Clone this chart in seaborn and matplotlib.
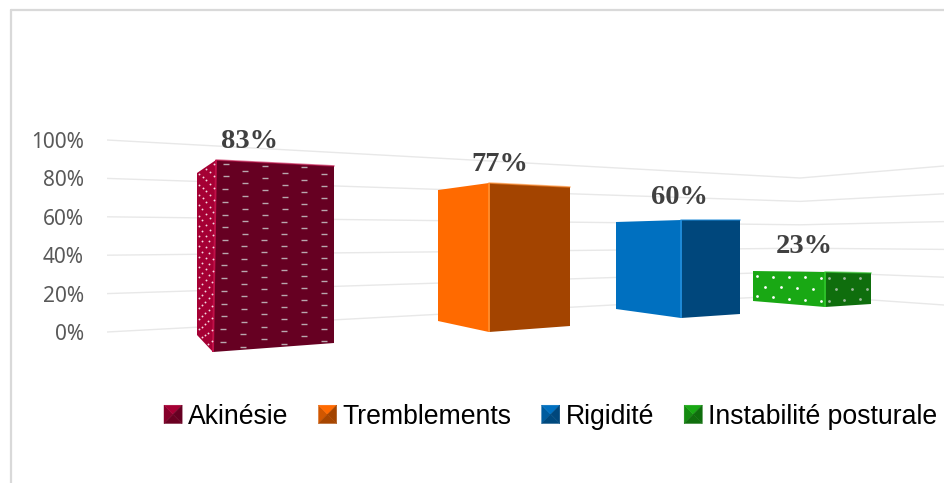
import numpy as np
import pandas as pd
import matplotlib
matplotlib.use("Agg")
import matplotlib.pyplot as plt
import seaborn as sns
from matplotlib.legend_handler import HandlerBase
from matplotlib.lines import Line2D
from matplotlib.patches import Patch, Polygon
from matplotlib.colors import to_rgb

# ---- data ----
categories = ["Akinésie", "Tremblements", "Rigidité", "Instabilité posturale"]
values = [83, 77, 60, 23]
tick_values = [0, 20, 40, 60, 80, 100]

# ---- style ----
light = ["#A50034", "#FF6A00", "#0070C0", "#19A814"]
dark = ["#660022", "#A34400", "#00477C", "#0F6E0D"]
edge_hi = ["#C01048", "#FF8A2A", "#1E8AD8", "#2CC228"]

# ---- perspective of the 3-D view (pixels of the 944x483 canvas) ----
W, H = 944, 483
AX_LEFT = 107
Y0_PX, PX_PER_PCT = 332, 1.92
CENTER0_PX, CAT_STEP_PX = 265, 182.33
EDGE_X = [(197, 216, 213, 334), (438, 489, 489, 570), (616, 681, 681, 740), (753, 825, 825, 871)]
FLOOR = [(335, 352, 343), (321, 332, 326), (309, 318, 314), (301, 307, 304)]
RISE = [(1.952, 2.313, 2.133), (1.701, 1.935, 1.805), (1.45, 1.633, 1.567), (1.304, 1.522, 1.348)]
LABEL_POS = [(249, 141), (500, 164), (679, 197), (804, 246)]
GRID_X = (107, 800, 944)
GRID_FLOOR = (332, 295, 305)
GRID_RISE = (1.92, 1.17, 1.39)

sns.set_theme(style="white")
plt.rcParams["font.family"] = ["Noto Sans", "DejaVu Sans"]


def xd(px):
    return (px - CENTER0_PX) / CAT_STEP_PX


def yd(py):
    return (Y0_PX - py) / PX_PER_PCT


fig = plt.figure(figsize=(W / 100, H / 100), dpi=100, facecolor="white")
ax = fig.add_axes([AX_LEFT / W, 0, (W - AX_LEFT) / W, 1])

df = pd.DataFrame({"cat": categories, "val": values})
sns.barplot(data=df, x="cat", y="val", hue="cat", palette=dark, dodge=False, saturation=1,
            legend=False, ax=ax, zorder=3, linewidth=0, width=0.6)

ax.set_xlim(xd(AX_LEFT), xd(W))
ax.set_ylim(yd(H), yd(0))
ax.set_xlabel("")
ax.set_ylabel("")
ax.set_xticks([])
ax.set_yticks(tick_values)
ax.set_yticklabels([f"{t}%" for t in tick_values], fontsize=15, color="#595959")
ax.tick_params(axis="y", length=0, pad=16.5)
for s in ax.spines.values():
    s.set_visible(False)

# perspective grid lines on the two back walls
for t in tick_values:
    ys = [f - t * r for f, r in zip(GRID_FLOOR, GRID_RISE)]
    ax.plot([xd(x) for x in GRID_X], [yd(y) for y in ys], color="#E8E8E8", lw=1.0, zorder=1)


def grid_dots(quad, nu, nv):
    """Regular staggered dots inside a quad (tl, tr, br, bl)."""
    q = np.array(quad, float)
    pts = []
    for i in range(nu):
        for j in range(nv):
            if (i + j) % 2 == 0:
                u, v = (i + .5) / nu, (j + .5) / nv
                top = q[0] * (1 - u) + q[1] * u
                bot = q[3] * (1 - u) + q[2] * u
                pts.append(top * (1 - v) + bot * v)
    return np.array(pts)


bars = sorted(ax.patches, key=lambda p: p.get_x())
for i, (bar, val) in enumerate(zip(bars, values)):
    xl, xmt, xmb, xr = EDGE_X[i]
    fl, fm, fr = FLOOR[i]
    rl, rm, rr = RISE[i]
    tl, tm, tr = fl - val * rl, fm - val * rm, fr - val * rr
    left = [(xd(a), yd(b)) for a, b in [(xl, tl), (xmt, tm), (xmb, fm), (xl, fl)]]
    right = [(xd(a), yd(b)) for a, b in [(xmt, tm), (xr, tr), (xr, fr), (xmb, fm)]]
    # the seaborn bar becomes the shaded right face of the box
    bar.set_x(xd(min(xmt, xmb)))
    bar.set_width(xd(xr) - xd(min(xmt, xmb)))
    bar.set_y(yd(max(fm, fr)))
    bar.set_height(yd(min(tm, tr)) - yd(max(fm, fr)))
    bar.set_clip_path(Polygon(right, closed=True, transform=ax.transData))
    ax.add_patch(Polygon(left, closed=True, fc=light[i], ec="none", zorder=3))
    ax.plot([xd(xmt), xd(xmb)], [yd(tm), yd(fm)], color=edge_hi[i], lw=1.4, zorder=4,
            solid_capstyle="butt")
    ax.plot([xd(xmt), xd(xr)], [yd(tm), yd(tr)], color=edge_hi[i], lw=1.2, zorder=4, alpha=.6)
    ax.text(xd(LABEL_POS[i][0]), yd(LABEL_POS[i][1]), f"{val}%", ha="center", va="center",
            family="Liberation Serif", weight="bold", fontsize=20.5, color="#404040", zorder=6)
    if i == 0:
        p = grid_dots(left, 5, 32)
        ax.scatter(p[:, 0], p[:, 1], s=1.8, c="#F4D9E2", linewidths=0, zorder=5)
        p = grid_dots(right, 6, 30)
        ax.scatter(p[:, 0], p[:, 1], s=20, marker="_", c="#B8A8AE", linewidths=1, zorder=5)
    if i == 3:
        p = grid_dots(left, 9, 3)
        ax.scatter(p[:, 0], p[:, 1], s=4, c="white", linewidths=0, zorder=5)
        p = grid_dots(right, 6, 3)
        ax.scatter(p[:, 0], p[:, 1], s=4, c="#9DB89C", linewidths=0, zorder=5)


class PyramidHandler(HandlerBase):
    def create_artists(self, legend, handle, xd_, yd_, width, height, fontsize, trans):
        c1 = np.array(to_rgb(handle.get_facecolor()[:3]))
        c2 = np.array(to_rgb(handle.get_edgecolor()[:3]))
        mid = (c1 + c2) / 2
        cx, cy = width / 2, height / 2
        corners = [(0, 0), (0, height), (width, height), (width, 0)]
        cols = [mid, c1, c2, mid * 0.8]      # left, top, right, bottom faces
        out = []
        for k in range(4):
            out.append(Polygon([corners[k], corners[(k + 1) % 4], (cx, cy)], closed=True,
                               fc=cols[k], ec=cols[k], lw=.3, transform=trans))
        return out


handles = [Patch(facecolor=l, edgecolor=d, label=c) for l, d, c in zip(light, dark, categories)]
leg = ax.legend(handles=handles, ncol=4, frameon=False, loc="center left",
                bbox_to_anchor=(164 / W, 1 - 416.5 / H), bbox_transform=fig.transFigure,
                prop={"family": "Liberation Sans", "size": 19.2},
                handlelength=0.68, handleheight=0.68, handletextpad=0.22, columnspacing=1.13,
                borderpad=0, borderaxespad=0,
                handler_map={Patch: PyramidHandler()})
for txt in leg.get_texts():
    txt.set_color("black")

# chart-area frame, cropped at the right and bottom
fig.add_artist(Line2D([11 / W, 11 / W], [0, 1 - 10 / H], color="#D9D9D9", lw=1.6))
fig.add_artist(Line2D([11 / W, 1], [1 - 10 / H, 1 - 10 / H], color="#D9D9D9", lw=1.6))

fig.savefig("out.png", dpi=100, facecolor="white")
